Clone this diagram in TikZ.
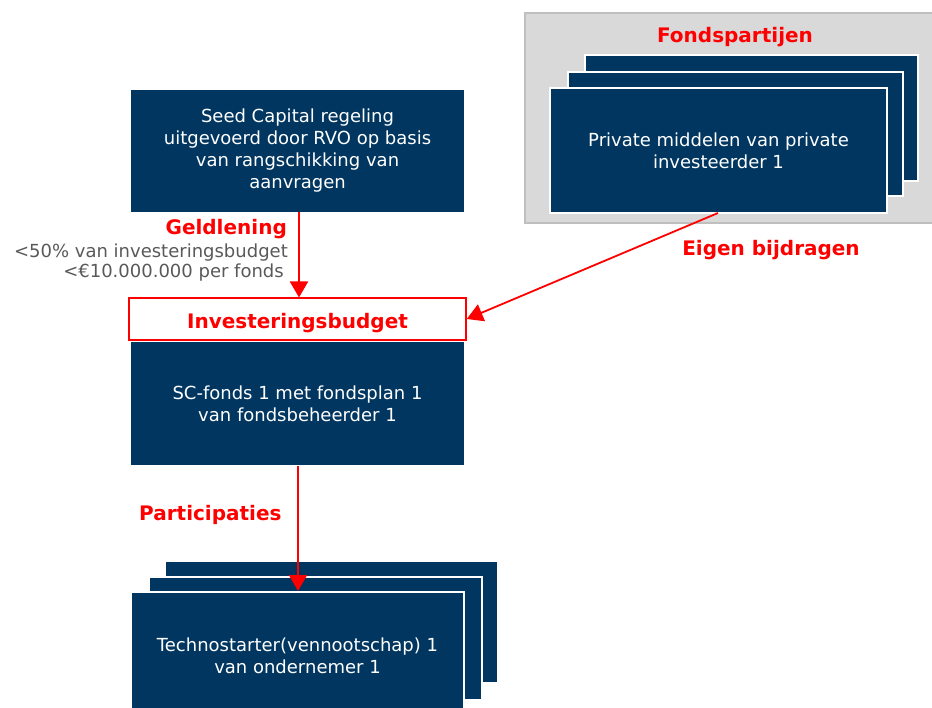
\documentclass[tikz,border=0pt]{standalone}
\usepackage{fontspec}
\setmainfont{DejaVu Sans}
\usetikzlibrary{arrows.meta}
\definecolor{navy}{RGB}{0,54,96}
\definecolor{redc}{RGB}{255,0,0}
\definecolor{greyfill}{RGB}{217,217,217}
\definecolor{greyline}{RGB}{191,191,191}
\definecolor{greytext}{RGB}{89,89,89}
\tikzset{
  navybox/.style={draw=white, line width=1.5pt, fill=navy, text=white, align=center,
    inner sep=0pt, font=\fontsize{18}{22}\selectfont},
  redlabel/.style={text=redc, font=\fontsize{20}{22}\selectfont\bfseries, inner sep=0pt},
  redarrow/.style={draw=redc, line width=1.8pt, -{Triangle[length=16pt,width=18pt]}},
}
\begin{document}
\begin{tikzpicture}[x=1pt,y=-1pt]
\useasboundingbox (0,0) rectangle (932,708);
\clip (0,0) rectangle (932,708);
% grey panel
\node[draw=greyline, line width=2pt, fill=greyfill, minimum width=420pt, minimum height=210pt, anchor=north west, inner sep=0pt] (panel) at (524,12) {};
\node[redlabel] (fonds) at (735,37) {Fondspartijen};
% private stack
\node[navybox, minimum width=333pt, minimum height=126pt] (pb3) at (751.5,118) {};
\node[navybox, minimum width=335pt, minimum height=124pt] (pb2) at (735.5,134) {};
\node[navybox, minimum width=337pt, minimum height=125pt] (priv) at (718.5,150.5) {Private middelen van private\\investeerder 1};
% seed box
\node[navybox, draw=none, minimum width=333pt, minimum height=122pt] (seed) at (297.5,151) {Seed Capital regeling\\uitgevoerd door RVO op basis\\van rangschikking van\\aanvragen};
% investeringsbudget
\node[draw=redc, line width=1.5pt, fill=white, minimum width=337pt, minimum height=42pt, inner sep=0pt] (inv) at (297.5,319) {};
\node[redlabel] (invt) at (297.5,323) {Investeringsbudget};
% SC fonds
\node[navybox, draw=none, minimum width=333pt, minimum height=123pt] (sc) at (297.5,403.5) {SC-fonds 1 met fondsplan 1\\van fondsbeheerder 1};
% techno stack
\node[navybox, minimum width=333pt, minimum height=122pt] (tb3) at (331.5,622) {};
\node[navybox, minimum width=333pt, minimum height=123pt] (tb2) at (315.5,638.5) {};
\node[navybox, minimum width=333pt, minimum height=130pt] (tech) at (297.5,657) {};
\node[text=white, align=center, inner sep=0pt, font=\fontsize{18}{22}\selectfont] (techt) at (297.5,656) {Technostarter(vennootschap) 1\\van ondernemer 1};
% arrows
\coordinate (geldtop) at (299,212);
\coordinate (partop) at (298,466);
\coordinate (eigtop) at (718,213);
\draw[redarrow] (geldtop) -- (299,297.5) coordinate (geldend);
\draw[redarrow] (partop) -- (298,591) coordinate (parend);
\draw[redarrow] (eigtop) -- (inv.east);
% labels
\node[redlabel, anchor=east] (geld) at (287,229) {Geldlening};
\node[text=greytext, anchor=east, inner sep=0pt, font=\fontsize{18}{20}\selectfont] (g1) at (288,253) {<50\% van investeringsbudget};
\node[text=greytext, anchor=east, inner sep=0pt, font=\fontsize{18}{20}\selectfont] (g2) at (284,273) {<€10.000.000 per fonds};
\node[redlabel] (eigen) at (771,250) {Eigen bijdragen};
\node[redlabel, anchor=west] (part) at (139,515) {Participaties};
\end{tikzpicture}
\end{document}
